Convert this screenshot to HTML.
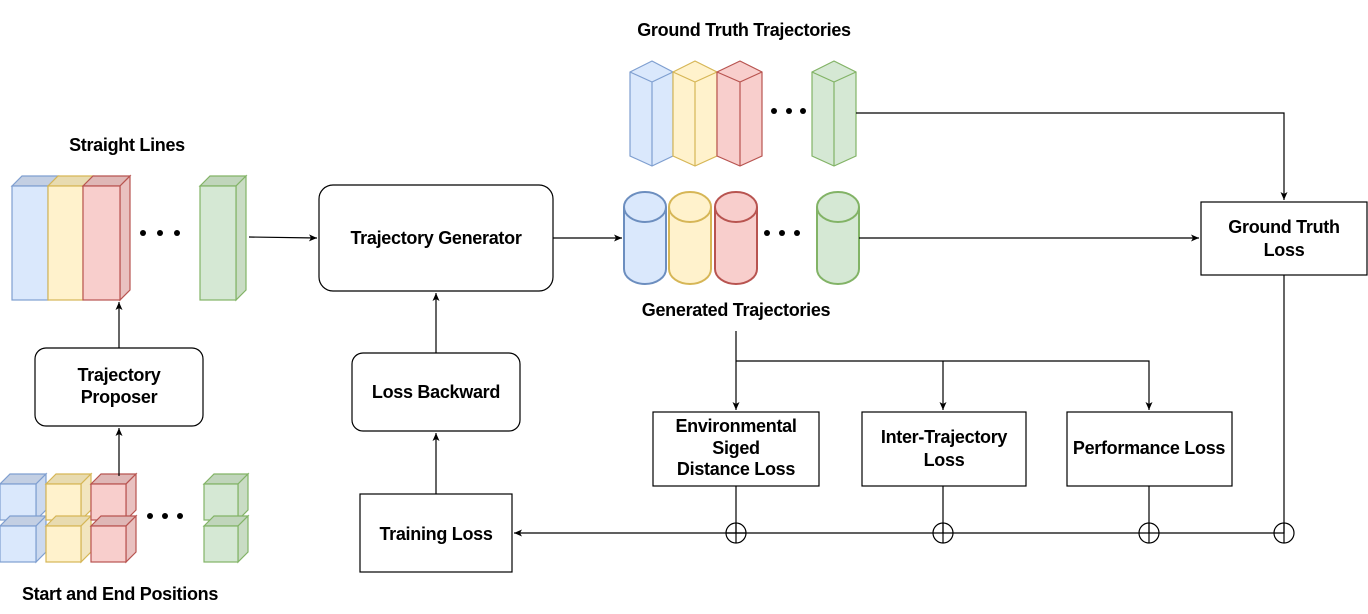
<!DOCTYPE html>
<html><head><meta charset="utf-8"><style>
body{margin:0;background:#fff}
svg{display:block}
text{font-family:"Liberation Sans",Arial,sans-serif;font-weight:bold;font-size:18px;fill:#000;text-anchor:middle;letter-spacing:-0.3px}
</style></head><body>
<svg width="1368" height="614" viewBox="0 0 1368 614" xmlns="http://www.w3.org/2000/svg">
<defs>
<marker id="a" markerWidth="10" markerHeight="10" refX="9" refY="5" orient="auto" markerUnits="userSpaceOnUse">
<path d="M1,1.5 L9,5 L1,8.5 L3,5 Z" fill="#000"/></marker>
</defs>
<g stroke-width="1.2">
<g>
<path d="M12,186 L22,176 L58,176 L48,186 Z" fill="#c3cfe3" stroke="#7f9fd0"/>
<rect x="12" y="186" width="36" height="114" fill="#dae8fc" stroke="#7f9fd0"/>
<path d="M48,186 L58,176 L93,176 L83,186 Z" fill="#e8dbb0" stroke="#d6b656"/>
<rect x="48" y="186" width="35" height="114" fill="#fff2cc" stroke="#d6b656"/>
<path d="M83,186 L93,176 L130,176 L120,186 Z" fill="#dfb7b6" stroke="#b85450"/>
<path d="M120,186 L130,176 L130,290 L120,300 Z" fill="#e9c1c0" stroke="#b85450"/>
<rect x="83" y="186" width="37" height="114" fill="#f8cecc" stroke="#b85450"/>
<path d="M200,186 L210,176 L246,176 L236,186 Z" fill="#c0d5bb" stroke="#82b366"/>
<path d="M236,186 L246,176 L246,290 L236,300 Z" fill="#c9dcc4" stroke="#82b366"/>
<rect x="200" y="186" width="36" height="114" fill="#d5e8d4" stroke="#82b366"/>
</g>
<g fill="#000"><circle cx="143" cy="233" r="3"/><circle cx="160" cy="233" r="3"/><circle cx="177" cy="233" r="3"/></g>
<g>
<path d="M0,484 L10,474 L46,474 L36,484Z" fill="#c3cfe3" stroke="#7f9fd0"/><path d="M36,484 L46,474 L46,510 L36,520Z" fill="#cbd9ef" stroke="#7f9fd0"/><rect x="0" y="484" width="36" height="36" fill="#dae8fc" stroke="#7f9fd0"/>
<path d="M0,526 L10,516 L46,516 L36,526Z" fill="#c3cfe3" stroke="#7f9fd0"/><path d="M36,526 L46,516 L46,552 L36,562Z" fill="#cbd9ef" stroke="#7f9fd0"/><rect x="0" y="526" width="36" height="36" fill="#dae8fc" stroke="#7f9fd0"/>
<path d="M46,484 L56,474 L91,474 L81,484Z" fill="#e8dbb0" stroke="#d6b656"/><path d="M81,484 L91,474 L91,510 L81,520Z" fill="#f2e5bf" stroke="#d6b656"/><rect x="46" y="484" width="35" height="36" fill="#fff2cc" stroke="#d6b656"/>
<path d="M46,526 L56,516 L91,516 L81,526Z" fill="#e8dbb0" stroke="#d6b656"/><path d="M81,526 L91,516 L91,552 L81,562Z" fill="#f2e5bf" stroke="#d6b656"/><rect x="46" y="526" width="35" height="36" fill="#fff2cc" stroke="#d6b656"/>
<path d="M91,484 L101,474 L136,474 L126,484Z" fill="#dfb7b6" stroke="#b85450"/><path d="M126,484 L136,474 L136,510 L126,520Z" fill="#e9c1c0" stroke="#b85450"/><rect x="91" y="484" width="35" height="36" fill="#f8cecc" stroke="#b85450"/>
<path d="M91,526 L101,516 L136,516 L126,526Z" fill="#dfb7b6" stroke="#b85450"/><path d="M126,526 L136,516 L136,552 L126,562Z" fill="#e9c1c0" stroke="#b85450"/><rect x="91" y="526" width="35" height="36" fill="#f8cecc" stroke="#b85450"/>
<path d="M204,484 L214,474 L248,474 L238,484Z" fill="#c0d5bb" stroke="#82b366"/><path d="M238,484 L248,474 L248,510 L238,520Z" fill="#c9dcc4" stroke="#82b366"/><rect x="204" y="484" width="34" height="36" fill="#d5e8d4" stroke="#82b366"/>
<path d="M204,526 L214,516 L248,516 L238,526Z" fill="#c0d5bb" stroke="#82b366"/><path d="M238,526 L248,516 L248,552 L238,562Z" fill="#c9dcc4" stroke="#82b366"/><rect x="204" y="526" width="34" height="36" fill="#d5e8d4" stroke="#82b366"/>
</g>
<g fill="#000"><circle cx="150" cy="516" r="3"/><circle cx="165" cy="516" r="3"/><circle cx="180" cy="516" r="3"/></g>
<g>
<path d="M630,72 L652,61 L673,72 L673,156 L652,166 L630,156 Z" fill="#dae8fc" stroke="#7f9fd0"/><path d="M630,72 L652,82 L673,72 M652,82 L652,166" fill="none" stroke="#7f9fd0"/>
<path d="M673,72 L695,61 L717,72 L717,156 L695,166 L673,156 Z" fill="#fff2cc" stroke="#d6b656"/><path d="M673,72 L695,82 L717,72 M695,82 L695,166" fill="none" stroke="#d6b656"/>
<path d="M717,72 L740,61 L762,72 L762,156 L740,166 L717,156 Z" fill="#f8cecc" stroke="#b85450"/><path d="M717,72 L740,82 L762,72 M740,82 L740,166" fill="none" stroke="#b85450"/>
<path d="M812,72 L834,61 L856,72 L856,156 L834,166 L812,156 Z" fill="#d5e8d4" stroke="#82b366"/><path d="M812,72 L834,82 L856,72 M834,82 L834,166" fill="none" stroke="#82b366"/>
</g>
<g fill="#000"><circle cx="774" cy="111" r="3"/><circle cx="789" cy="111" r="3"/><circle cx="803" cy="111" r="3"/></g>
<g stroke-width="2">
<path d="M624,207 A21,15 0 0 1 666,207 L666,269 A21,15 0 0 1 624,269 Z" fill="#dae8fc" stroke="#6c8ebf"/><path d="M624,207 A21,15 0 0 0 666,207" fill="none" stroke="#6c8ebf"/>
<path d="M669,207 A21,15 0 0 1 711,207 L711,269 A21,15 0 0 1 669,269 Z" fill="#fff2cc" stroke="#d6b656"/><path d="M669,207 A21,15 0 0 0 711,207" fill="none" stroke="#d6b656"/>
<path d="M715,207 A21,15 0 0 1 757,207 L757,269 A21,15 0 0 1 715,269 Z" fill="#f8cecc" stroke="#b85450"/><path d="M715,207 A21,15 0 0 0 757,207" fill="none" stroke="#b85450"/>
<path d="M817,207 A21,15 0 0 1 859,207 L859,269 A21,15 0 0 1 817,269 Z" fill="#d5e8d4" stroke="#82b366"/><path d="M817,207 A21,15 0 0 0 859,207" fill="none" stroke="#82b366"/>
</g>
<g fill="#000"><circle cx="767" cy="233" r="3"/><circle cx="782" cy="233" r="3"/><circle cx="797" cy="233" r="3"/></g>
<g fill="#fff" stroke="#000">
<rect x="35" y="348" width="168" height="78" rx="11"/>
<rect x="319" y="185" width="234" height="106" rx="14"/>
<rect x="352" y="353" width="168" height="78" rx="11"/>
<rect x="360" y="494" width="152" height="78"/>
<rect x="653" y="412" width="166" height="74"/>
<rect x="862" y="412" width="164" height="74"/>
<rect x="1067" y="412" width="165" height="74"/>
<rect x="1201" y="202" width="166" height="73"/>
</g>
<g stroke="#000" fill="none">
<path d="M119,476 L119,428" marker-end="url(#a)"/>
<path d="M119,348 L119,302" marker-end="url(#a)"/>
<path d="M249,237 L317,238" marker-end="url(#a)"/>
<path d="M553,238 L622,238" marker-end="url(#a)"/>
<path d="M436,353 L436,293" marker-end="url(#a)"/>
<path d="M436,494 L436,433" marker-end="url(#a)"/>
<path d="M859,238 L1199,238" marker-end="url(#a)"/>
<path d="M856,113 L1284,113 L1284,200" marker-end="url(#a)"/>
<path d="M736,331 L736,410" marker-end="url(#a)"/>
<path d="M736,361 L1149,361 L1149,410" marker-end="url(#a)"/>
<path d="M943,361 L943,410" marker-end="url(#a)"/>
<path d="M1284,275 L1284,533 L514,533" marker-end="url(#a)"/>
<path d="M736,486 L736,533 M943,486 L943,533 M1149,486 L1149,533"/>
<circle cx="736" cy="533" r="10"/><path d="M726,533 L746,533 M736,523 L736,543"/>
<circle cx="943" cy="533" r="10"/><path d="M943,523 L943,543"/>
<circle cx="1149" cy="533" r="10"/><path d="M1149,523 L1149,543"/>
<circle cx="1284" cy="533" r="10"/><path d="M1284,523 L1284,543"/>
</g>
</g>
<text x="744" y="36">Ground Truth Trajectories</text>
<text x="127" y="151">Straight Lines</text>
<text x="120" y="600">Start and End Positions</text>
<text x="736" y="316">Generated Trajectories</text>
<text x="119" y="381">Trajectory</text><text x="119" y="403">Proposer</text>
<text x="436" y="244">Trajectory Generator</text>
<text x="436" y="398">Loss Backward</text>
<text x="436" y="540">Training Loss</text>
<text x="736" y="432">Environmental</text><text x="736" y="454">Siged</text><text x="736" y="475">Distance Loss</text>
<text x="944" y="443">Inter-Trajectory</text><text x="944" y="466">Loss</text>
<text x="1149" y="454">Performance Loss</text>
<text x="1284" y="233">Ground Truth</text><text x="1284" y="256">Loss</text>
</svg>
</body></html>
